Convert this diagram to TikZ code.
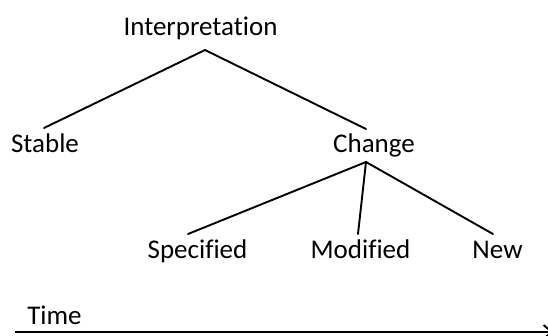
\documentclass[tikz,border=0pt]{standalone}
\usepackage{fontspec}
\setmainfont{Carlito}[Ligatures={NoCommon}]
\usetikzlibrary{calc,arrows.meta}
\begin{document}
\begin{tikzpicture}[x=1pt,y=-1pt,
  lbl/.style={anchor=base,inner sep=0pt,font=\fontsize{27}{30}\selectfont},
  edge/.style={line width=1.9pt,line cap=round}]
\useasboundingbox[fill=white] (0,0) rectangle (548,335);
\node[lbl] (interp) at (200.5,35) {Interpretation};
\node[lbl] (stable) at (45,152) {Stable};
\node[lbl] (change) at (374,152) {Change};
\node[lbl] (spec) at (197.5,258) {Specified};
\node[lbl] (mod) at (360.5,258) {Modified};
\node[lbl] (new) at (497.5,258) {New};
\node[lbl] (time) at (54.5,324) {Time};
\coordinate (tend) at (553,332);
\draw[edge] ($(interp.base)+(4.5,15)$) -- ($(stable.base)+(-1,-24)$);
\draw[edge] ($(interp.base)+(4.5,15)$) -- ($(change.base)+(-8,-23)$);
\draw[edge] ($(change.base)+(-8,10)$) -- ($(spec.base)+(-9.5,-24)$);
\draw[edge] ($(change.base)+(-8,10)$) -- ($(mod.base)+(-2.5,-24)$);
\draw[edge] ($(change.base)+(-8,10)$) -- ($(new.base)+(-4.5,-24)$);
\draw[line width=1.9pt,-{Straight Barb[length=8pt,width=14pt]}] ($(time.base)+(-39.5,8)$) -- (tend);
\end{tikzpicture}
\end{document}
